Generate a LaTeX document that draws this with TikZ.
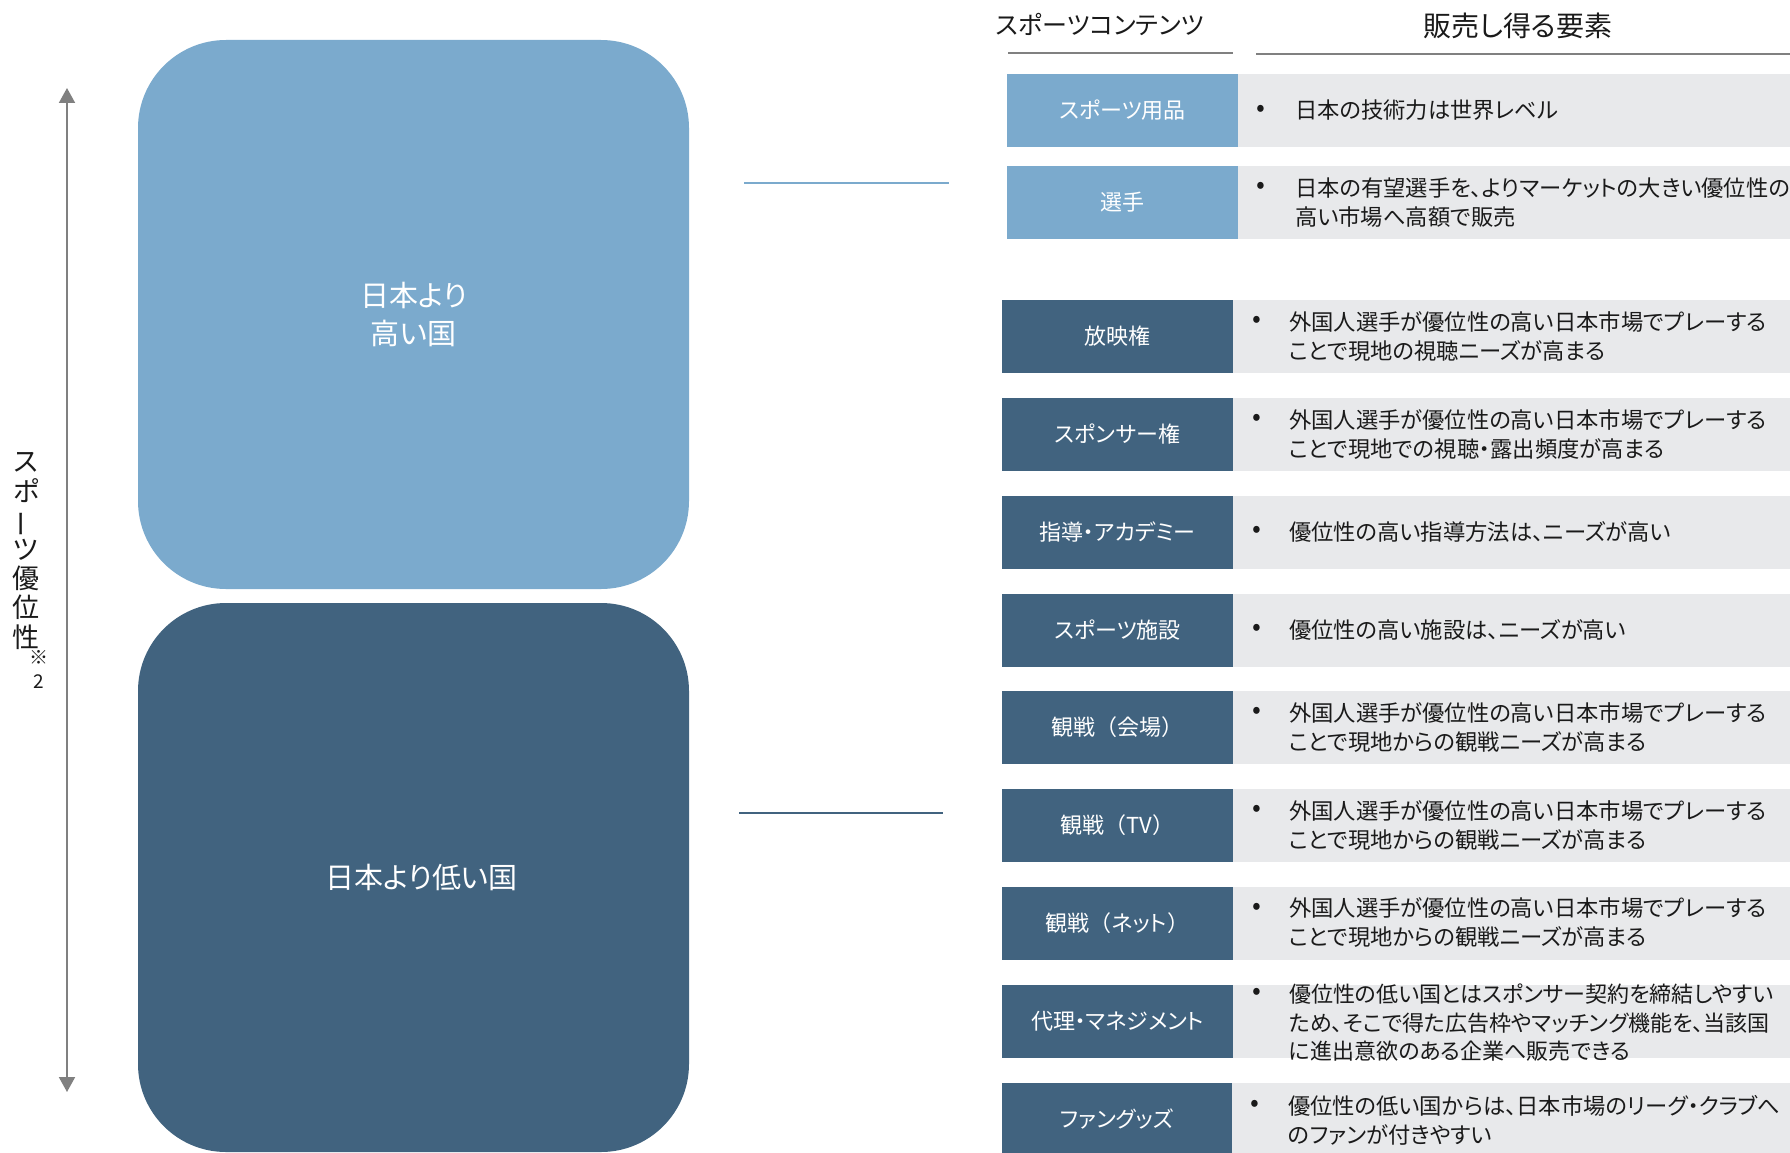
\documentclass[tikz,border=0pt]{standalone}
\usepackage{fontspec}
\usepackage{graphicx}
\setmainfont{Noto Sans CJK JP}[RawFeature=+palt]
\newfontfamily\fullw{Noto Sans CJK JP}
\usetikzlibrary{arrows.meta}
\definecolor{lightblue}{HTML}{7BAACD}
\definecolor{darkblue}{HTML}{41637F}
\definecolor{rowgray}{HTML}{E8E9EB}
\definecolor{rulegray}{HTML}{808080}
\definecolor{txtblack}{HTML}{1A1A1A}
\tikzset{
  bigbox/.style={rectangle, rounded corners=88pt, inner sep=0pt, minimum width=551pt, minimum height=549pt, text=white, align=center, font=\fontsize{29}{38}\selectfont},
  catbox/.style={rectangle, inner sep=0pt, minimum width=231pt, minimum height=73pt, text=white, font=\fontsize{22}{26}\selectfont},
  descbox/.style={rectangle, inner sep=0pt, fill=rowgray, minimum height=73pt},
  desctext/.style={anchor=west, align=left, inner sep=0pt, text=txtblack, font=\fontsize{22.3}{29}\selectfont},
  bul/.style={inner sep=0pt, text=txtblack, font=\fontsize{26}{28}\selectfont},
  headtext/.style={inner sep=0pt, text=txtblack},
  headrule/.style={rulegray, line width=2.5pt},
  linkline/.style={line width=2pt}
}
\begin{document}
\begin{tikzpicture}[x=1pt,y=-1pt]
\useasboundingbox (0,0) rectangle (1790,1153);

% big rounded boxes
\node[bigbox, fill=lightblue] (high) at (413.5,314.5) {日本より\\高い国};
\node[bigbox, fill=darkblue] (low) at (413.5,877.5) {\hspace*{16pt}日本より低い国};

% axis arrow
\coordinate (atop) at (67,88);
\coordinate (abot) at (67,1092);
\draw[rulegray, line width=2pt, {Triangle[width=16pt,length=15pt]}-{Triangle[width=16pt,length=15pt]}] (atop) -- (abot);
\node[inner sep=0pt, align=center, text=txtblack, font=\fontsize{27}{29.2}\selectfont] (vlabel) at (26,551)
  {ス\\ポ\\\rotatebox[origin=c]{90}{ー}\\ツ\\優\\位\\性};
\node[inner sep=0pt, align=center, text=txtblack, font=\fontsize{19}{24}\selectfont] (vnote) at (38.5,669) {※\\2};

% connector lines
\coordinate (hs) at (744,183);
\coordinate (he) at (949,183);
\draw[linkline, lightblue] (hs) -- (he);
\coordinate (ls) at (739,813);
\coordinate (le) at (943,813);
\draw[linkline, darkblue] (ls) -- (le);

% headers
\node[headtext, font=\fontsize{25}{30}\selectfont] (h1) at (1100,24) {スポーツコンテンツ};
\node[headtext, font=\fontsize{28}{30}\selectfont] (h2) at (1518,26) {販売し得る要素};
\coordinate (r1s) at (1008,53);
\coordinate (r1e) at (1233,53);
\coordinate (r2s) at (1256,54);
\coordinate (r2e) at (1790,54);
\draw[headrule] (r1s) -- (r1e);
\draw[headrule] (r2s) -- (r2e);

% row 1
\node[catbox, fill=lightblue] (c1) at (1122.5,110.5) {スポーツ用品};
\node[descbox, minimum width=552pt] (d1) at (1514,110.5) {};
\node[bul] (b1) at (1261,110.5) {•};
\node[desctext] (t1) at (1295,110.5) {日本の技術力は世界レベル};

% row 2
\node[catbox, fill=lightblue] (c2) at (1122.5,202.5) {選手};
\node[descbox, minimum width=552pt] (d2) at (1514,202.5) {};
\node[bul] (b2) at (1261,188) {•};
\node[desctext] (t2) at (1295,202.5) {日本の有望選手を、よりマーケットの大きい優位性の\\高い市場へ高額で販売};

% row 3
\node[catbox, fill=darkblue] (c3) at (1117.5,336.5) {放映権};
\node[descbox, minimum width=557pt] (d3) at (1511.5,336.5) {};
\node[bul] (b3) at (1257,322) {•};
\node[desctext] (t3) at (1289,336.5) {外国人選手が優位性の高い日本市場でプレーする\\ことで現地の視聴ニーズが高まる};

% row 4
\node[catbox, fill=darkblue] (c4) at (1117.5,434.5) {スポンサー権};
\node[descbox, minimum width=557pt] (d4) at (1511.5,434.5) {};
\node[bul] (b4) at (1257,420) {•};
\node[desctext] (t4) at (1289,434.5) {外国人選手が優位性の高い日本市場でプレーする\\ことで現地での視聴・露出頻度が高まる};

% row 5
\node[catbox, fill=darkblue] (c5) at (1117.5,532) {指導・アカデミー};
\node[descbox, minimum width=557pt] (d5) at (1511.5,532) {};
\node[bul] (b5) at (1257,532) {•};
\node[desctext] (t5) at (1289,532) {優位性の高い指導方法は、ニーズが高い};

% row 6
\node[catbox, fill=darkblue] (c6) at (1117.5,630) {スポーツ施設};
\node[descbox, minimum width=557pt] (d6) at (1511.5,630) {};
\node[bul] (b6) at (1257,630) {•};
\node[desctext] (t6) at (1289,630) {優位性の高い施設は、ニーズが高い};

% row 7
\node[catbox, fill=darkblue] (c7) at (1117.5,727.5) {観戦{\fullw（}会場{\fullw）}};
\node[descbox, minimum width=557pt] (d7) at (1511.5,727.5) {};
\node[bul] (b7) at (1257,713) {•};
\node[desctext] (t7) at (1289,727.5) {外国人選手が優位性の高い日本市場でプレーする\\ことで現地からの観戦ニーズが高まる};

% row 8
\node[catbox, fill=darkblue] (c8) at (1117.5,825.5) {観戦{\fullw（}TV{\fullw）}};
\node[descbox, minimum width=557pt] (d8) at (1511.5,825.5) {};
\node[bul] (b8) at (1257,811) {•};
\node[desctext] (t8) at (1289,825.5) {外国人選手が優位性の高い日本市場でプレーする\\ことで現地からの観戦ニーズが高まる};

% row 9
\node[catbox, fill=darkblue] (c9) at (1117.5,923) {観戦{\fullw（}ネット{\fullw）}};
\node[descbox, minimum width=557pt] (d9) at (1511.5,923) {};
\node[bul] (b9) at (1257,908.5) {•};
\node[desctext] (t9) at (1289,923) {外国人選手が優位性の高い日本市場でプレーする\\ことで現地からの観戦ニーズが高まる};

% row 10
\node[catbox, fill=darkblue] (c10) at (1117.5,1021) {代理・マネジメント};
\node[descbox, minimum width=557pt] (d10) at (1511.5,1021) {};
\node[bul] (b10) at (1257,994) {•};
\node[desctext, font=\fontsize{22}{28.5}\selectfont] (t10) at (1289,1023) {優位性の低い国とはスポンサー契約を締結しやすい\\ため、そこで得た広告枠やマッチング機能を、当該国\\に進出意欲のある企業へ販売できる};

% row 11
\node[catbox, fill=darkblue] (c11) at (1117,1119) {ファングッズ};
\node[descbox, minimum width=558pt] (d11) at (1511,1119) {};
\node[bul] (b11) at (1255,1105.5) {•};
\node[desctext] (t11) at (1288,1120) {優位性の低い国からは、日本市場のリーグ・クラブへ\\のファンが付きやすい};
\end{tikzpicture}
\end{document}
